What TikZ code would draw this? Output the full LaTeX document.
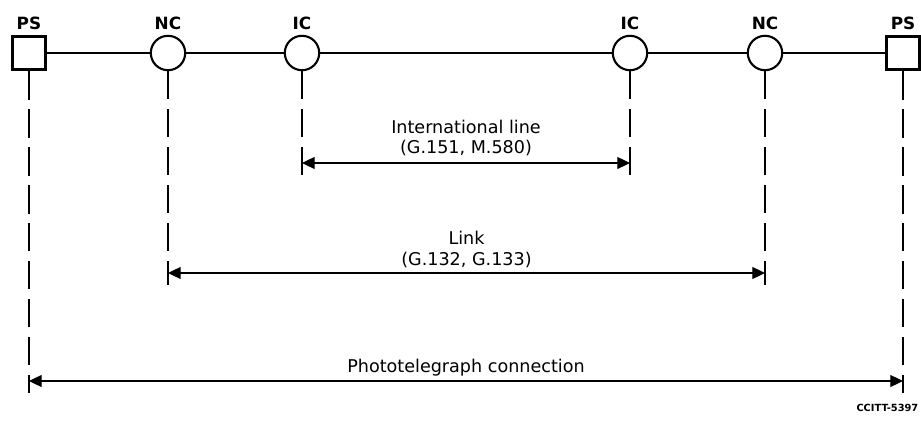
\documentclass[tikz,border=0pt]{standalone}
\usepackage{fontspec}
\setmainfont{DejaVu Sans}
\usetikzlibrary{arrows.meta, positioning}

\begin{document}
\begin{tikzpicture}[x=0.025cm, y=-0.025cm, font=\fontsize{12.5}{14.5}\selectfont,
    tag/.style={font=\bfseries\fontsize{12}{13}\selectfont, label distance=0pt},
    station/.style={draw, line width=2.4pt, minimum size=0.84cm, label={[tag]above:#1}},
    centre/.style={draw, circle, line width=1.5pt, minimum size=0.86cm, label={[tag]above:#1}},
    guide/.style={line width=0.9pt, dash pattern=on 20pt off 7pt},
    span/.style={{Triangle[length=9pt,width=8.5pt]}-{Triangle[length=9pt,width=8.5pt]}, line width=0.9pt}]
  \useasboundingbox (0,0) rectangle (921,425);
  % stations and centres
  \node[station=PS] (ps1) at (29,53) {};
  \node[centre=NC] (nc1) at (168,53) {};
  \node[centre=IC] (ic1) at (302,53) {};
  \node[centre=IC] (ic2) at (630,53) {};
  \node[centre=NC] (nc2) at (765,53) {};
  \node[station=PS] (ps2) at (903,53) {};
  \draw[line width=1.2pt] (ps1) -- (nc1) -- (ic1) -- (ic2) -- (nc2) -- (ps2);
  % ends of the guide lines
  \coordinate (ps1e) at (29,393);
  \coordinate (ps2e) at (903,393);
  \coordinate (nc1e) at (168,285);
  \coordinate (nc2e) at (765,285);
  \coordinate (ic1e) at (302,175);
  \coordinate (ic2e) at (630,175);
  \foreach \n in {ps1,ps2,nc1,nc2,ic1,ic2}
    \draw[guide] (\n) -- (\n e);
  % arrow ends
  \coordinate (ps1a) at (29,381);
  \coordinate (ps2a) at (903,381);
  \coordinate (nc1a) at (168,273);
  \coordinate (nc2a) at (765,273);
  \coordinate (ic1a) at (302,163);
  \coordinate (ic2a) at (630,163);
  \path[span]
    (ic1a) edge node[above=1pt, align=center] {International line\\(G.151, M.580)} (ic2a)
    (nc1a) edge node[above=0pt, align=center] {Link\\(G.132, G.133)} (nc2a)
    (ps1a) edge node[above=0pt] {Phototelegraph connection} (ps2a);
  \node[anchor=east, inner sep=1pt, font=\bfseries\fontsize{7}{8}\selectfont] (ref) at (920,408) {CCITT-5397};
\end{tikzpicture}
\end{document}
